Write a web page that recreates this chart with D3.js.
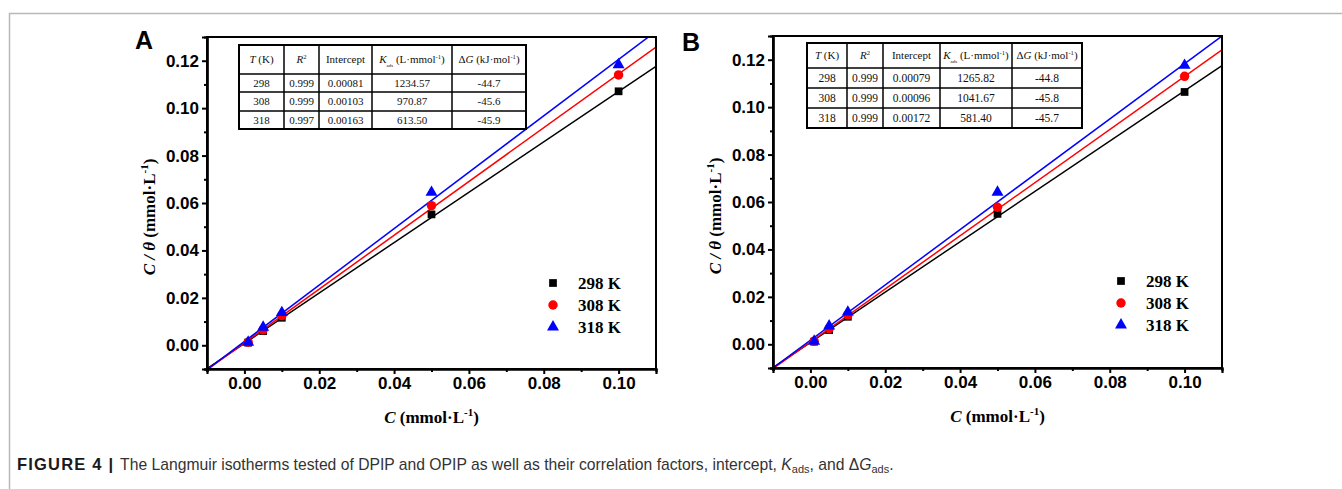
<!DOCTYPE html>
<html>
<head>
<meta charset="utf-8">
<script src="https://cdn.jsdelivr.net/npm/d3@7/dist/d3.min.js"></script>
<style>
  html, body { margin: 0; padding: 0; background: #fff; }
  svg { display: block; }
</style>
</head>
<body>
<svg id="fig" width="1342" height="489"></svg>
<script>
// Langmuir isotherm data: C/θ versus C at three temperatures
const concentrations = [0.001, 0.005, 0.01, 0.05, 0.1];
const temperatures = ["298 K", "308 K", "318 K"];
const seriesColors = ["#000000", "#ff0000", "#0000ff"];
const markerShapes = ["square", "circle", "triangle"];

// DPIP (panel A)
const dpip298 = [0.0011, 0.0060, 0.0116, 0.0552, 0.1071];
const dpip308 = [0.0013, 0.0065, 0.0125, 0.0589, 0.1140];
const dpip318 = [0.0013, 0.0076, 0.0138, 0.0645, 0.1183];
const dpipSlopes = [1.062, 1.134, 1.189];
const dpipIntercepts = [0.00081, 0.00103, 0.00163];

// OPIP (panel B)
const opip298 = [0.0011, 0.0060, 0.0116, 0.0550, 0.1064];
const opip308 = [0.0013, 0.0066, 0.0124, 0.0578, 0.1130];
const opip318 = [0.0013, 0.0077, 0.0136, 0.0641, 0.1176];
const opipSlopes = [1.061, 1.120, 1.166];
const opipIntercepts = [0.00079, 0.00096, 0.00172];

// Inset tables
const tableTemps = ["298", "308", "318"];
const dpipR2 = ["0.999", "0.999", "0.997"];
const dpipInterceptText = ["0.00081", "0.00103", "0.00163"];
const dpipKads = ["1234.57", "970.87", "613.50"];
const dpipDeltaG = ["-44.7", "-45.6", "-45.9"];
const opipR2 = ["0.999", "0.999", "0.999"];
const opipInterceptText = ["0.00079", "0.00096", "0.00172"];
const opipKads = ["1265.82", "1041.67", "581.40"];
const opipDeltaG = ["-44.8", "-45.8", "-45.7"];

// Axis ticks
const xMajorTicks = [0, 0.02, 0.04, 0.06, 0.08, 0.10];
const xMinorTicks = [-0.01, 0.01, 0.03, 0.05, 0.07, 0.09];
const yMajorTicks = [0, 0.02, 0.04, 0.06, 0.08, 0.10, 0.12];
const yMinorTicks = [-0.01, 0.01, 0.03, 0.05, 0.07, 0.09, 0.11];

const SANS = "'Liberation Sans', Arial, sans-serif";
const SERIF = "'Liberation Serif', 'Times New Roman', serif";

const svg = d3.select("#fig");
svg.append("rect").attr("width", 1342).attr("height", 489).attr("fill", "#fff");

// figure frame (open on the right and bottom)
svg.append("path")
  .attr("d", "M9.5,489 L9.5,13.5 L1342,13.5")
  .attr("fill", "none").attr("stroke", "#b8b8b8").attr("stroke-width", 1.5);

function drawPanel(cfg) {
  const x = d3.scaleLinear().domain([-0.01, 0.11]).range([cfg.left, cfg.right]);
  const y = d3.scaleLinear().domain([-0.01, 0.13]).range([cfg.bottom, cfg.top]);
  const g = svg.append("g");

  const clipId = "clip-" + cfg.letter;
  svg.append("clipPath").attr("id", clipId)
    .append("rect")
    .attr("x", cfg.left).attr("y", cfg.top)
    .attr("width", cfg.right - cfg.left).attr("height", cfg.bottom - cfg.top);

  // fitted lines
  const lineGen = d3.line().x(d => x(d[0])).y(d => y(d[1]));
  cfg.slopes.forEach((s, i) => {
    const b = cfg.intercepts[i];
    g.append("path")
      .attr("clip-path", `url(#${clipId})`)
      .attr("d", lineGen([[-0.01, b + s * -0.01], [0.11, b + s * 0.11]]))
      .attr("fill", "none")
      .attr("stroke", seriesColors[i])
      .attr("stroke-width", 1.5);
  });

  // markers
  const sym = {
    square: d3.symbol().type(d3.symbolSquare).size(60),
    circle: d3.symbol().type(d3.symbolCircle).size(70),
    triangle: d3.symbol().type(d3.symbolTriangle).size(62)
  };
  cfg.series.forEach((vals, i) => {
    g.selectAll(null).data(vals).enter().append("path")
      .attr("d", sym[markerShapes[i]]())
      .attr("transform", (d, j) => `translate(${x(concentrations[j])},${y(d)})`)
      .attr("fill", seriesColors[i]);
  });

  // plot frame
  g.append("rect")
    .attr("x", cfg.left).attr("y", cfg.top)
    .attr("width", cfg.right - cfg.left).attr("height", cfg.bottom - cfg.top)
    .attr("fill", "none").attr("stroke", "#000").attr("stroke-width", 2);

  // axes
  const xAxis = g.append("g").attr("transform", `translate(0,${cfg.bottom})`)
    .call(d3.axisBottom(x).tickValues(xMajorTicks).tickFormat(d3.format(".2f"))
      .tickSize(5).tickPadding(3));
  const xMinor = g.append("g").attr("transform", `translate(0,${cfg.bottom})`)
    .call(d3.axisBottom(x).tickValues(xMinorTicks).tickFormat("").tickSize(3));
  const yAxis = g.append("g").attr("transform", `translate(${cfg.left},0)`)
    .call(d3.axisLeft(y).tickValues(yMajorTicks).tickFormat(d3.format(".2f"))
      .tickSize(5).tickPadding(3));
  const yMinor = g.append("g").attr("transform", `translate(${cfg.left},0)`)
    .call(d3.axisLeft(y).tickValues(yMinorTicks).tickFormat("").tickSize(3));
  [xAxis, xMinor, yAxis, yMinor].forEach(a => {
    a.select(".domain").attr("stroke-width", 2.2);
    a.selectAll(".tick line").attr("stroke-width", 2);
    a.selectAll("text").attr("font-family", SANS).attr("font-weight", "bold")
      .attr("font-size", 17).attr("fill", "#000");
  });

  // axis titles
  const xt = g.append("text")
    .attr("x", (cfg.left + cfg.right) / 2).attr("y", cfg.bottom + 54)
    .attr("text-anchor", "middle")
    .attr("font-family", SERIF).attr("font-weight", "bold").attr("font-size", 17);
  xt.append("tspan").attr("font-style", "italic").text("C");
  xt.append("tspan").text(" (mmol·L");
  xt.append("tspan").attr("font-size", 11).attr("dy", -7).text("-1");
  xt.append("tspan").attr("dy", 7).text(")");

  const yt = g.append("text")
    .attr("transform", `translate(${cfg.left - 52},${(cfg.top + cfg.bottom) / 2 + 14}) rotate(-90)`)
    .attr("text-anchor", "middle")
    .attr("font-family", SERIF).attr("font-weight", "bold").attr("font-size", 17);
  yt.append("tspan").attr("font-style", "italic").text("C / θ");
  yt.append("tspan").text(" (mmol·L");
  yt.append("tspan").attr("font-size", 11).attr("dy", -7).text("-1");
  yt.append("tspan").attr("dy", 7).text(")");

  // panel letter
  g.append("text")
    .attr("x", cfg.letterX).attr("y", cfg.letterY)
    .attr("font-family", SANS).attr("font-weight", "bold").attr("font-size", 25)
    .text(cfg.letter);

  // legend
  temperatures.forEach((t, i) => {
    const ly = cfg.legendY + i * 22;
    g.append("path")
      .attr("d", sym[markerShapes[i]]())
      .attr("transform", `translate(${cfg.legendX},${ly})`)
      .attr("fill", seriesColors[i]);
    g.append("text")
      .attr("x", cfg.legendX + 25).attr("y", ly + 6)
      .attr("font-family", SERIF).attr("font-weight", "bold").attr("font-size", 17)
      .text(t);
  });

  // inset table
  const tb = cfg.table;
  const cols = tb.cols, rows = tb.rows;
  const tg = g.append("g");
  tg.append("rect").attr("x", cols[0]).attr("y", rows[0])
    .attr("width", cols[cols.length - 1] - cols[0]).attr("height", rows[rows.length - 1] - rows[0])
    .attr("fill", "#fff").attr("stroke", "#000").attr("stroke-width", 2);
  cols.slice(1, -1).forEach(cx => tg.append("line")
    .attr("x1", cx).attr("x2", cx).attr("y1", rows[0]).attr("y2", rows[rows.length - 1])
    .attr("stroke", "#000").attr("stroke-width", 1.5));
  rows.slice(1, -1).forEach(ry => tg.append("line")
    .attr("x1", cols[0]).attr("x2", cols[cols.length - 1]).attr("y1", ry).attr("y2", ry)
    .attr("stroke", "#000").attr("stroke-width", 1.5));

  const fs = tb.fontSize, hfs = tb.headerSize;
  const cellText = (ci, ri, size) => tg.append("text")
    .attr("x", (cols[ci] + cols[ci + 1]) / 2)
    .attr("y", (rows[ri] + rows[ri + 1]) / 2)
    .attr("dy", "0.35em")
    .attr("text-anchor", "middle")
    .attr("font-family", SERIF).attr("font-size", size).attr("fill", "#111");

  // header row
  let h = cellText(0, 0, hfs);
  h.append("tspan").attr("font-style", "italic").text("T");
  h.append("tspan").text(" (K)");
  h = cellText(1, 0, hfs);
  h.append("tspan").attr("font-style", "italic").text("R");
  h.append("tspan").attr("font-size", hfs * 0.6).attr("dy", -hfs * 0.4).text("2");
  cellText(2, 0, hfs).text("Intercept");
  h = cellText(3, 0, hfs);
  h.append("tspan").attr("font-style", "italic").text("K");
  h.append("tspan").attr("font-size", hfs * 0.45).attr("dy", hfs * 0.3).text("ads");
  h.append("tspan").attr("dy", -hfs * 0.3).text(" (L·mmol");
  h.append("tspan").attr("font-size", hfs * 0.6).attr("dy", -hfs * 0.4).text("-1");
  h.append("tspan").attr("dy", hfs * 0.4).text(")");
  h = cellText(4, 0, hfs);
  h.append("tspan").text("Δ");
  h.append("tspan").attr("font-style", "italic").text("G");
  h.append("tspan").text(" (kJ·mol");
  h.append("tspan").attr("font-size", hfs * 0.6).attr("dy", -hfs * 0.4).text("-1");
  h.append("tspan").attr("dy", hfs * 0.4).text(")");

  const colsData = [tableTemps, tb.r2, tb.intercept, tb.kads, tb.dg];
  colsData.forEach((arr, ci) => arr.forEach((v, ri) => cellText(ci, ri + 1, fs).text(v)));
}

drawPanel({
  letter: "A", letterX: 135, letterY: 49,
  left: 207, right: 656, top: 37, bottom: 369,
  series: [dpip298, dpip308, dpip318],
  slopes: dpipSlopes, intercepts: dpipIntercepts,
  legendX: 553, legendY: 283,
  table: {
    cols: [239, 284, 319, 372, 452, 526],
    rows: [45, 74, 92, 111, 129],
    fontSize: 11, headerSize: 11,
    r2: dpipR2, intercept: dpipInterceptText, kads: dpipKads, dg: dpipDeltaG
  }
});

drawPanel({
  letter: "B", letterX: 682, letterY: 51,
  left: 773, right: 1222, top: 36, bottom: 368,
  series: [opip298, opip308, opip318],
  slopes: opipSlopes, intercepts: opipIntercepts,
  legendX: 1121, legendY: 281,
  table: {
    cols: [807, 847, 883, 940, 1012, 1082],
    rows: [43, 68, 88, 108, 128],
    fontSize: 11.5, headerSize: 11,
    r2: opipR2, intercept: opipInterceptText, kads: opipKads, dg: opipDeltaG
  }
});

// caption
const cap = svg.append("text")
  .attr("x", 17).attr("y", 470)
  .attr("font-family", SANS).attr("font-size", 15.7).attr("fill", "#333");
cap.append("tspan").attr("font-weight", "bold").attr("font-size", 16.5)
  .attr("letter-spacing", 1.2).attr("fill", "#1a1a1a").text("FIGURE 4 | ");
cap.append("tspan").text("The Langmuir isotherms tested of DPIP and OPIP as well as their correlation factors, intercept, ");
cap.append("tspan").attr("font-style", "italic").text("K");
cap.append("tspan").attr("font-size", 11).attr("dy", 3).text("ads");
cap.append("tspan").attr("dy", -3).text(", and Δ");
cap.append("tspan").attr("font-style", "italic").text("G");
cap.append("tspan").attr("font-size", 11).attr("dy", 3).text("ads");
cap.append("tspan").attr("dy", -3).text(".");
</script>
</body>
</html>
